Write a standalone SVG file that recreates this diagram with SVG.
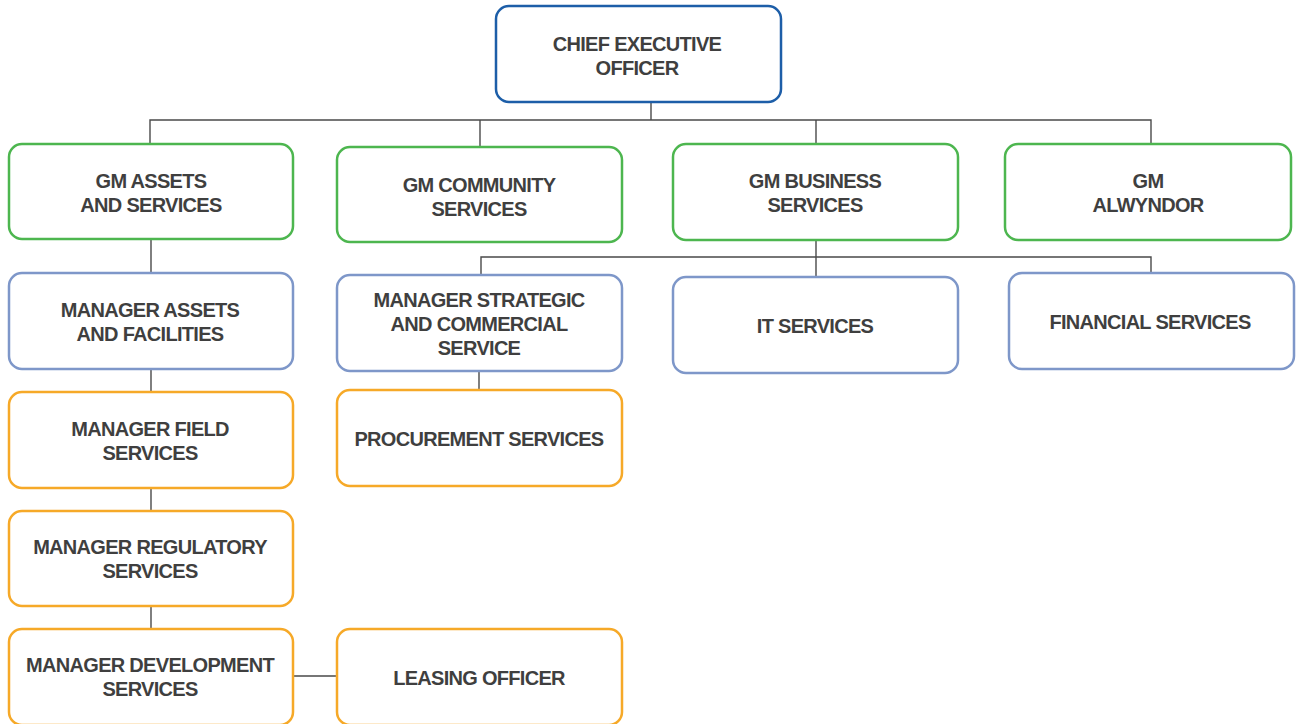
<svg xmlns="http://www.w3.org/2000/svg" width="1296" height="724" viewBox="0 0 1296 724">
<style>
.box{fill:#fff;stroke-width:2.5}
.ceo{stroke:#1d5ea8}
.gm{stroke:#4db64f}
.mg{stroke:#7e97c9}
.or{stroke:#f6a928}
text{font-family:"Liberation Sans",Arial,sans-serif;font-weight:bold;font-size:20px;letter-spacing:-0.7px;fill:#3f3f3f;text-anchor:middle}
.conn{fill:none;stroke:#4a4a4a;stroke-width:1.4}
</style>
<rect width="1296" height="724" fill="#fff"/>
<g id="connectors" class="conn">
<path d="M651 102V120M150 144V120H1151V144M480 120V147M816 120V144"/>
<path d="M151 239V273M151 369V392M151 488V511M151 606V629M293 676H337"/>
<path d="M816 240V277M481 275V257H1151V273M479 371V390"/>
</g>
<g id="ceo"><rect class="box ceo" x="496" y="6" width="285" height="96" rx="13"/><text x="637" y="51">CHIEF EXECUTIVE</text><text x="637" y="75">OFFICER</text></g>
<g id="gm-assets"><rect class="box gm" x="9" y="144" width="284" height="95" rx="13"/><text x="151" y="188">GM ASSETS</text><text x="151" y="212">AND SERVICES</text></g>
<g id="gm-community"><rect class="box gm" x="337" y="147" width="285" height="95" rx="13"/><text x="479" y="192">GM COMMUNITY</text><text x="479" y="216">SERVICES</text></g>
<g id="gm-business"><rect class="box gm" x="673" y="144" width="285" height="96" rx="13"/><text x="815" y="188">GM BUSINESS</text><text x="815" y="212">SERVICES</text></g>
<g id="gm-alwyndor"><rect class="box gm" x="1005" y="144" width="286" height="96" rx="13"/><text x="1148" y="188">GM</text><text x="1148" y="212">ALWYNDOR</text></g>
<g id="mgr-assets"><rect class="box mg" x="9" y="273" width="284" height="96" rx="13"/><text x="150" y="317">MANAGER ASSETS</text><text x="150" y="341">AND FACILITIES</text></g>
<g id="mgr-strategic"><rect class="box mg" x="337" y="275" width="285" height="96" rx="13"/><text x="479" y="307">MANAGER STRATEGIC</text><text x="479" y="331">AND COMMERCIAL</text><text x="479" y="355">SERVICE</text></g>
<g id="it"><rect class="box mg" x="673" y="277" width="285" height="96" rx="13"/><text x="815" y="333">IT SERVICES</text></g>
<g id="financial"><rect class="box mg" x="1009" y="273" width="285" height="96" rx="13"/><text x="1150" y="329">FINANCIAL SERVICES</text></g>
<g id="field"><rect class="box or" x="9" y="392" width="284" height="96" rx="13"/><text x="150" y="436">MANAGER FIELD</text><text x="150" y="460">SERVICES</text></g>
<g id="procurement"><rect class="box or" x="337" y="390" width="285" height="96" rx="13"/><text x="479" y="446">PROCUREMENT SERVICES</text></g>
<g id="regulatory"><rect class="box or" x="9" y="511" width="284" height="95" rx="13"/><text x="150" y="554">MANAGER REGULATORY</text><text x="150" y="578">SERVICES</text></g>
<g id="development"><rect class="box or" x="9" y="629" width="284" height="96" rx="13"/><text x="150" y="672">MANAGER DEVELOPMENT</text><text x="150" y="696">SERVICES</text></g>
<g id="leasing"><rect class="box or" x="337" y="629" width="285" height="96" rx="13"/><text x="479" y="685">LEASING OFFICER</text></g>
</svg>
